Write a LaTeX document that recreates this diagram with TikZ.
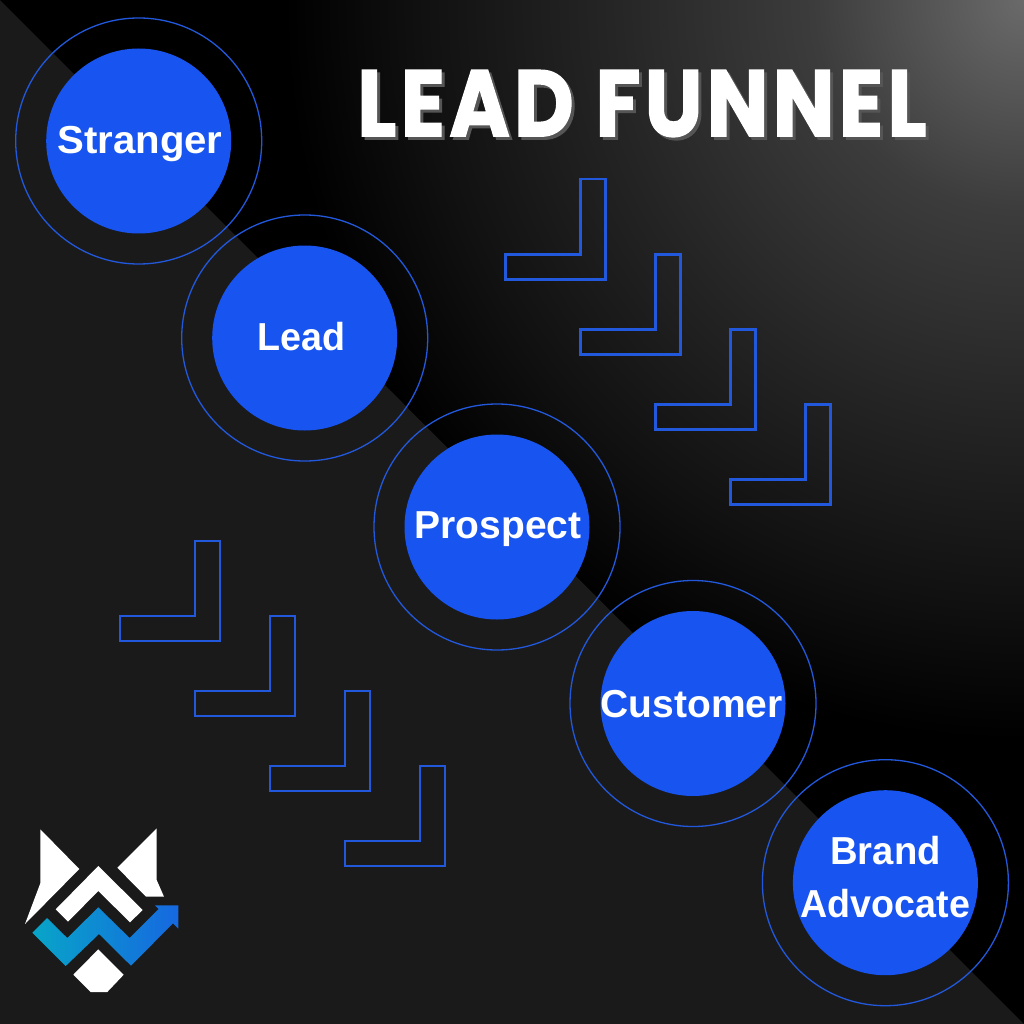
\documentclass[tikz,border=0pt]{standalone}
\usepackage{fontspec}
\usepackage{tikz}
\setmainfont{Liberation Sans}
\newfontfamily\titlefont[LetterSpace=5,FakeBold=1.5,BoldFont={Poppins Bold}]{Poppins}
\definecolor{leftbg}{HTML}{1A1A1A}
\definecolor{discblue}{HTML}{1754F0}
\definecolor{ringblue}{HTML}{2258DC}
\definecolor{titleshade}{HTML}{555555}
\definecolor{logocyan}{HTML}{08A5C8}
\definecolor{logoblue}{HTML}{1668E0}
\definecolor{glow0}{HTML}{6A6A6A}
\definecolor{glow1}{HTML}{3C3C3C}
\definecolor{glow2}{HTML}{242424}
\definecolor{glow3}{HTML}{111111}
\pgfdeclareradialshading{cornerglow}{\pgfpointorigin}{color(0bp)=(glow0);color(7.15bp)=(glow1);color(14.3bp)=(glow2);color(20.25bp)=(glow3);color(25bp)=(black);color(50bp)=(black)}

\begin{document}
\begin{tikzpicture}[x=1pt,y=-1pt]
          \tikzstyle{disc}=[circle,fill=discblue,inner sep=0pt,minimum size=185pt]
          \tikzstyle{ring}=[circle,draw=ringblue,line width=1.3pt,inner sep=0pt,minimum size=246pt]
          \tikzstyle{disctext}=[text=white,inner sep=0pt,anchor=base,font=\fontsize{39}{54}\selectfont\bfseries]
          \tikzstyle{bracket}=[draw=ringblue,line width=2.4pt,line join=miter]
          \tikzstyle{titletext}=[inner sep=0pt,anchor=north west]
          \tikzstyle{logowhite}=[fill=white]

          \useasboundingbox (0,0) rectangle (1024,1024);

          % background
          \fill[leftbg] (0,0) rectangle (1024,1024);
          \begin{scope}
            \clip (0,0) -- (1024,0) -- (1024,1024) -- cycle;
            \fill[black] (0,0) rectangle (1024,1024);
            \shade[shading=cornerglow] (1024,0) circle (740);
          \end{scope}

          % title
          \node[titletext,text=titleshade](titleback) at (360,73) {\resizebox{569pt}{66pt}{\titlefont\bfseries LEAD FUNNEL}};
          \node[titletext,text=white](title) at (357,70) {\resizebox{569pt}{66pt}{\titlefont\bfseries LEAD FUNNEL}};

          % steps
          \node[disc](stranger) at (138.7,141) {};
          \node[disc](lead)[below of=stranger,node distance=197pt,xshift=166pt]{};
          \node[disc](prospect)[below of=lead,node distance=189pt,xshift=192.3pt]{};
          \node[disc](customer)[below of=prospect,node distance=176.5pt,xshift=196pt]{};
          \node[disc](advocate)[below of=customer,node distance=179.2pt,xshift=192.4pt]{};

          \node[ring](stranger ring) at (stranger) {};
          \node[ring](lead ring) at (lead) {};
          \node[ring](prospect ring) at (prospect) {};
          \node[ring](customer ring) at (customer) {};
          \node[ring](advocate ring) at (advocate) {};

          \node[disctext](stranger label) at (140,153.5) {\scalebox{1.03}[1]{Stranger}};
          \node[disctext](lead label) at (301.7,350) {\scalebox{0.965}[1]{Lead}};
          \node[disctext](prospect label) at (498,538.5) {Prospect};
          \node[disctext](customer label) at (691.7,717.5) {Customer};
          \node[disctext](brand label) at (885.5,864) {\scalebox{0.98}[1]{Brand}};
          \node[disctext](advocate label) at (885.5,917.5) {\scalebox{0.965}[1]{Advocate}};

          % brackets
          \foreach \cx/\cy in {605.3/279.3,680.3/354.3,755.3/429.3,830.3/504.3,220/641,295/716,370/791,445/866}
            \draw[bracket] (\cx,\cy) -- ++(-100,0) -- ++(0,-25) -- ++(75,0) -- ++(0,-75) -- ++(25,0) -- cycle;

          % logo
          \fill[logowhite] (40.3,829.3) -- (79.3,869) -- (25,924) -- (40.3,883.3) -- cycle;
          \fill[logowhite] (156.7,828.3) -- (156.7,880) -- (164,896.7) -- (146,896.7) -- (117.3,867.7) -- cycle;
          \fill[logowhite] (98.3,866) -- (142.7,910) -- (130,922.3) -- (98.3,891) -- (68,921.7) -- (55.7,909.3) -- cycle;
          \fill[logowhite] (98.3,949.3) -- (123.7,974.7) -- (107.3,992) -- (90.7,992) -- (73.3,974.7) -- cycle;
          \shade[left color=logocyan,right color=logoblue] (32.3,932.7) -- (47,918) -- (67.3,938) -- (98.3,907.3) -- (129.7,938) -- (158.7,909) -- (155,905.3) -- (178.3,905.3) -- (178.3,928.7) -- (173,923.3) -- (131,965.7) -- (99,934) -- (65.7,966) -- cycle;
        \end{tikzpicture}
\end{document}
